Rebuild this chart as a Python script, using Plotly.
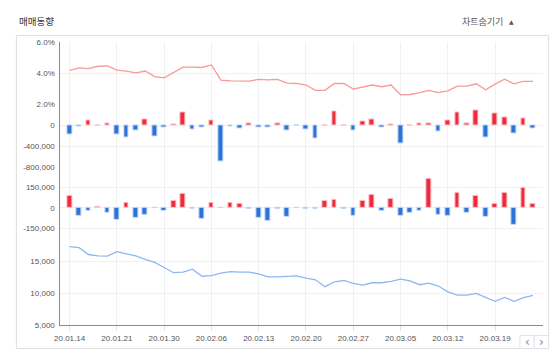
import plotly.graph_objects as go
from plotly.subplots import make_subplots

dates = ["20.01.14", "20.01.15", "20.01.16", "20.01.17", "20.01.20", "20.01.21", "20.01.22", "20.01.23",
         "20.01.28", "20.01.29", "20.01.30", "20.01.31", "20.02.03", "20.02.04", "20.02.05", "20.02.06",
         "20.02.07", "20.02.10", "20.02.11", "20.02.12", "20.02.13", "20.02.14", "20.02.17", "20.02.18",
         "20.02.19", "20.02.20", "20.02.21", "20.02.24", "20.02.25", "20.02.26", "20.02.27", "20.02.28",
         "20.03.02", "20.03.03", "20.03.04", "20.03.05", "20.03.06", "20.03.09", "20.03.10", "20.03.11",
         "20.03.12", "20.03.13", "20.03.16", "20.03.17", "20.03.18", "20.03.19", "20.03.20", "20.03.23",
         "20.03.24", "20.03.25"]

rate_pct = [4.19, 4.36, 4.31, 4.46, 4.48, 4.21, 4.15, 4.04, 4.15, 3.79, 3.71, 4.05, 4.40, 4.40, 4.38, 4.54,
            3.56, 3.52, 3.50, 3.50, 3.62, 3.58, 3.62, 3.37, 3.35, 3.25, 2.91, 2.91, 3.35, 3.35, 2.99, 3.10,
            3.25, 3.14, 3.25, 2.62, 2.64, 2.76, 2.91, 2.76, 2.87, 3.18, 3.18, 3.33, 2.95, 3.31, 3.62, 3.33,
            3.48, 3.48]

volume_a = [-171000, -15000, 89000, 3000, 32000, -184000, -229000, -102000, 114000, -222000, -38000, 25000,
            241000, -76000, -44000, 102000, -692000, -25000, -63000, 38000, -44000, -38000, 38000, -102000,
            -10000, -89000, -254000, 0, 267000, 0, -102000, 76000, 114000, -38000, 19000, -356000, 0, 44000,
            44000, -114000, 89000, 241000, 32000, 279000, -229000, 222000, 159000, -152000, 127000, -63000]

volume_b = [91000, -62000, -24000, 7000, -34000, -86000, 36000, -70000, -53000, 0, -24000, 53000, 101000,
            -7000, -82000, 34000, 0, 36000, 29000, -5000, -77000, -96000, -10000, -67000, 0, -5000, -5000,
            48000, 58000, -4000, -58000, 53000, 94000, -24000, 67000, -62000, -34000, -19000, 211000, -48000,
            -62000, 110000, -38000, 91000, -67000, 29000, 110000, -125000, 149000, 29000]

price = [17259, 17106, 16040, 15837, 15787, 16497, 16142, 15837, 15279, 14822, 14010, 13198, 13300, 13756,
         12640, 12741, 13147, 13350, 13300, 13300, 12995, 12538, 12538, 12640, 12690, 12335, 12081, 11015,
         11777, 11980, 11523, 11269, 11624, 11624, 11827, 12183, 11929, 11320, 11574, 11117, 10203, 9695,
         9695, 9949, 9340, 8731, 9340, 8731, 9289, 9645]

y1_ticks = [6, 4, 2]
y1_text = ["6.0%", "4.0%", "2.0%"]
y2_ticks = [0, -400000, -800000]
y2_text = ["0", "-400,000", "-800,000"]
y3_ticks = [150000, 0, -150000]
y3_text = ["150,000", "0", "-150,000"]
y4_ticks = [15000, 10000, 5000]
y4_text = ["15,000", "10,000", "5,000"]

W, H = 559, 363
RED, RED_EDGE = "#f0293b", "#f8c3c8"
BLUE, BLUE_EDGE = "#2b72d9", "#c3d7f4"


def py(p):
    return 1 - p / H


def px(p):
    return p / W


fig = make_subplots(rows=4, cols=1, shared_xaxes=True, vertical_spacing=0)

fig.add_trace(go.Scatter(x=dates, y=rate_pct, mode="lines",
                         line=dict(color="#f79a9a", width=1.3), hoverinfo="x+y"), row=1, col=1)


def bar_trace(vals):
    return go.Bar(x=dates, y=vals, width=0.5,
                  marker=dict(color=[RED if v >= 0 else BLUE for v in vals],
                              line=dict(color=[RED_EDGE if v >= 0 else BLUE_EDGE for v in vals], width=1)))


fig.add_trace(bar_trace(volume_a), row=2, col=1)
fig.add_trace(bar_trace(volume_b), row=3, col=1)
fig.add_trace(go.Scatter(x=dates, y=price, mode="lines",
                         line=dict(color="#8cb8ee", width=1.3)), row=4, col=1)

tickfont = dict(family="Liberation Sans, Arial, sans-serif", size=8, color="#555555")
grid = "#f1f1f1"
vgrid = "#edf0f5"

xdom = [px(55), px(543)]
xrange_ = [-0.97, 50.08]
for i in range(1, 5):
    fig.update_xaxes(row=i, col=1, domain=xdom, range=xrange_, type="category",
                     tickvals=dates[::5], ticktext=dates[::5],
                     showgrid=True, gridcolor=vgrid, gridwidth=1,
                     showline=False, zeroline=False, showticklabels=(i == 4),
                     tickfont=tickfont, ticks="outside" if i == 4 else "",
                     ticklen=5, tickcolor="#dde2ea")
fig.update_xaxes(row=4, col=1, showline=True, linecolor="#8a8a8a", linewidth=1)

ydefs = [
    (1, [py(103), py(39.3)], [2, 6], y1_ticks, y1_text),
    (2, [py(167), py(103)], [-800000, 400000], y2_ticks, y2_text),
    (3, [py(251), py(167)], [-300000, 300000], y3_ticks, y3_text),
    (4, [py(329.3), py(247)], [5000, 17546], y4_ticks, y4_text),
]
for r, dom, rng, tv, tt in ydefs:
    fig.update_yaxes(row=r, col=1, domain=dom, range=rng, tickvals=tv, ticktext=tt,
                     showgrid=True, gridcolor=grid, gridwidth=1, zeroline=False,
                     showline=True, linecolor="#8a8a8a", linewidth=1,
                     tickfont=tickfont, ticks="", ticklabelstandoff=3)

shapes = [
    dict(type="rect", xref="paper", yref="paper", x0=px(10.5), x1=px(548.5), y0=py(353.3), y1=py(32.3),
         line=dict(color="#dddddd", width=1), layer="below"),
    dict(type="rect", xref="paper", yref="paper", x0=px(519.5), x1=px(534), y0=py(353.3), y1=py(340),
         line=dict(color="#e3e3e3", width=1), fillcolor="white"),
    dict(type="rect", xref="paper", yref="paper", x0=px(534), x1=px(548.5), y0=py(353.3), y1=py(340),
         line=dict(color="#e3e3e3", width=1), fillcolor="white"),
]

annos = [
    dict(text="매매동향", x=px(11.5), y=py(17), xanchor="left", yanchor="middle",
         font=dict(family="Noto Sans CJK KR", size=9.5, color="#333333")),
    dict(text="차트숨기기", x=px(504.5), y=py(18), xanchor="right", yanchor="middle",
         font=dict(family="Noto Sans CJK KR", size=9, color="#555555")),
    dict(text="▲", x=px(510.5), y=py(17.5), xanchor="center", yanchor="middle",
         font=dict(family="DejaVu Sans", size=6, color="#555555")),
    dict(text="‹", x=px(526.7), y=py(346.3), xanchor="center", yanchor="middle",
         font=dict(family="DejaVu Sans", size=12, color="#888888")),
    dict(text="›", x=px(541.3), y=py(346.3), xanchor="center", yanchor="middle",
         font=dict(family="DejaVu Sans", size=12, color="#888888")),
]
for a in annos:
    a.update(xref="paper", yref="paper", showarrow=False)

fig.update_layout(width=W, height=H, margin=dict(l=0, r=0, t=0, b=0),
                  paper_bgcolor="white", plot_bgcolor="white",
                  showlegend=False, bargap=0, shapes=shapes, annotations=annos)

fig.write_html("out.html", config={"displayModeBar": False},
               post_script="document.body.style.margin='0';document.body.style.overflow='hidden';")
